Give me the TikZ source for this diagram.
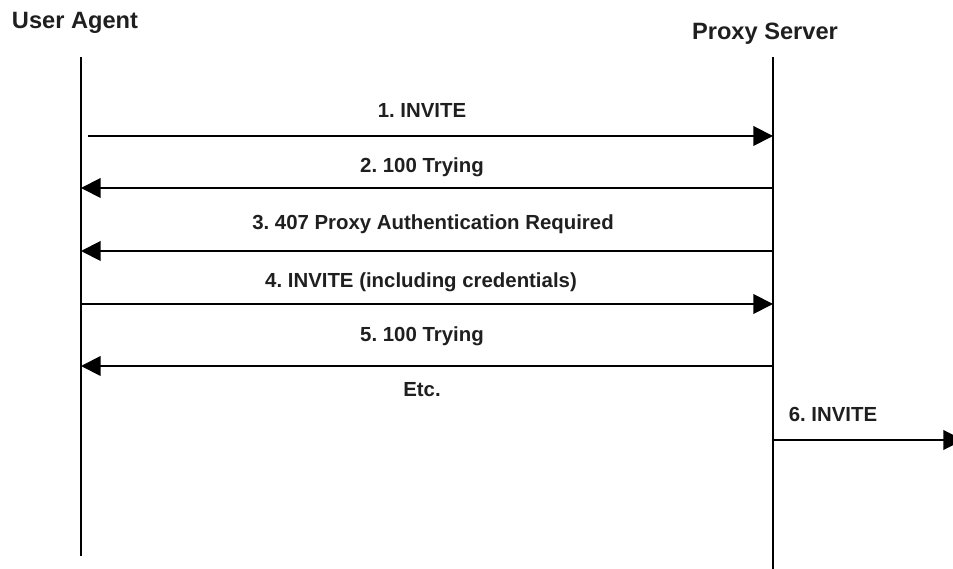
\documentclass[tikz,border=0pt]{standalone}
\usepackage{fontspec}
\setmainfont{Liberation Sans}
\usetikzlibrary{arrows.meta}
\frenchspacing

\begin{document}
\begin{tikzpicture}[x=0.025cm, y=-0.025cm,
        lifeline/.style={line width=1.6pt},
        msg/.style={line width=1.4pt,-{Triangle[length=14pt,width=14pt]}},
        party/.style={font=\fontsize{16.8}{20}\selectfont\bfseries,text=black!88,inner sep=0pt,anchor=base},
        msglabel/.style={font=\fontsize{14.5}{17}\selectfont\bfseries,text=black!88,inner sep=0pt,anchor=base}]

    \useasboundingbox (0,0) rectangle (953,569);

    % Participants
    \node[party] (ua) at (75,29) {User Agent};
    \node[party] (ps) at (765,40) {Proxy Server};

    % Lifelines
    \coordinate (ua-top) at (81,57);
    \coordinate (ua-bot) at (81,556);
    \coordinate (ps-top) at (773,57);
    \coordinate (ps-bot) at (773,569);
    \draw[lifeline] (ua-top) -- (ua-bot);
    \draw[lifeline] (ps-top) -- (ps-bot);

    % Message end points
    \coordinate (ua1) at (88,136);
    \coordinate (ps1) at (773,136);
    \coordinate (ua2) at (81,188);
    \coordinate (ps2) at (773,188);
    \coordinate (ua3) at (81,251);
    \coordinate (ps3) at (773,251);
    \coordinate (ua4) at (81,304);
    \coordinate (ps4) at (773,304);
    \coordinate (ua5) at (81,366);
    \coordinate (ps5) at (773,366);
    \coordinate (ps6) at (773,440);
    \coordinate (ext6) at (963,440);

    % Labels
    \node[msglabel] (l1) at (422,118) {1. INVITE};
    \node[msglabel] (l2) at (422,173) {2. 100 Trying};
    \node[msglabel] (l3) at (433,230) {3. 407 Proxy Authentication Required};
    \node[msglabel] (l4) at (421,288) {4. INVITE (including credentials)};
    \node[msglabel] (l5) at (422,342) {5. 100 Trying};
    \node[msglabel] (etc) at (422,397) {Etc.};
    \node[msglabel] (l6) at (833,422) {6. INVITE};

    % Messages
    \draw[msg] (ua1) -- (ps1);
    \draw[msg] (ps2) -- (ua2);
    \draw[msg] (ps3) -- (ua3);
    \draw[msg] (ua4) -- (ps4);
    \draw[msg] (ps5) -- (ua5);
    \draw[msg] (ps6) -- (ext6);

\end{tikzpicture}
\end{document}
